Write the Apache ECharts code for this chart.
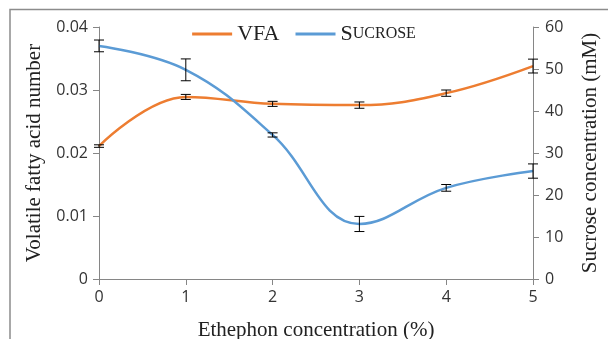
<!DOCTYPE html>
<html>
<head>
<meta charset="utf-8">
<script src="https://cdn.jsdelivr.net/npm/echarts@6/dist/echarts.min.js"></script>
<style>
  html, body { margin: 0; padding: 0; background: #fff; }
  #chart { width: 608px; height: 339px; }
</style>
</head>
<body>
<div id="chart"></div>
<script>
// ethephon concentration (%)
const concentrations = [0, 1, 2, 3, 4, 5];
// volatile fatty acid number (left axis)
const vfa = [0.0211, 0.0289, 0.0278, 0.0276, 0.0295, 0.0338];
const vfaErr = [0.0002, 0.0004, 0.0004, 0.0005, 0.0005, 0.0011];
// sucrose concentration mM (right axis)
const sucrose = [55.5, 49.8, 34.3, 13.1, 21.7, 25.7];
const sucroseErr = [1.4, 2.6, 0.5, 1.8, 0.8, 1.7];

const leftTicks = [0, 0.01, 0.02, 0.03, 0.04];
const rightTicks = [0, 10, 20, 30, 40, 50, 60];

const axisGray = '#868686';
const serif = '"Liberation Serif", "DejaVu Serif", serif';
const sans = '"Open Sans", "Noto Sans", sans-serif';

const myChart = echarts.init(document.getElementById('chart'));

function pairs(ys) {
  return concentrations.map((x, i) => [x, ys[i]]);
}

// error bar renderer, caps about 10px wide
function errorBars(vals, errs, yAxisIndex) {
  return {
    type: 'custom',
    yAxisIndex: yAxisIndex,
    z: 5,
    silent: true,
    data: concentrations.map((x, i) => [x, vals[i] - errs[i], vals[i] + errs[i]]),
    renderItem: function (params, api) {
      const lo = api.coord([api.value(0), api.value(1)]);
      const hi = api.coord([api.value(0), api.value(2)]);
      const w = 5;
      const style = { stroke: '#000', lineWidth: 1 };
      return {
        type: 'group',
        children: [
          { type: 'line', shape: { x1: lo[0], y1: lo[1], x2: hi[0], y2: hi[1] }, style: style },
          { type: 'line', shape: { x1: lo[0] - w, y1: lo[1], x2: lo[0] + w, y2: lo[1] }, style: style },
          { type: 'line', shape: { x1: hi[0] - w, y1: hi[1], x2: hi[0] + w, y2: hi[1] }, style: style }
        ]
      };
    }
  };
}

let option = {
  animation: false,
  backgroundColor: '#fff',
  graphic: [
    {
      type: 'polyline',
      shape: { points: [[10, 339], [10, 9.5], [608, 9.5]] },
      style: { stroke: '#8c8c8c', lineWidth: 1.5, fill: null }
    }
  ],
  grid: { left: 99, right: 75, top: 27, bottom: 60, outerBoundsMode: 'none' },
  legend: {
    top: 18,
    left: 'center',
    itemWidth: 40,
    itemHeight: 3,
    itemGap: 16,
    icon: 'rect',
    data: ['VFA', 'SUCROSE'],
    formatter: function (name) {
      return name === 'VFA' ? '{b|VFA}' : '{b|S}{s|UCROSE}';
    },
    textStyle: {
      rich: {
        b: { fontFamily: serif, fontSize: 22, color: '#222' },
        s: { fontFamily: serif, fontSize: 16, color: '#222' }
      }
    }
  },
  xAxis: {
    type: 'value',
    min: 0,
    max: 5,
    interval: 1,
    name: 'Ethephon concentration (%)',
    nameLocation: 'middle',
    nameGap: 41,
    nameTextStyle: { fontFamily: serif, fontSize: 21, color: '#222' },
    axisLine: { lineStyle: { color: axisGray } },
    axisTick: { show: true, length: 6, lineStyle: { color: axisGray } },
    splitLine: { show: false },
    axisLabel: { fontFamily: sans, fontSize: 16, color: '#333', margin: 10 }
  },
  yAxis: [
    {
      type: 'value',
      min: leftTicks[0],
      max: leftTicks[leftTicks.length - 1],
      interval: 0.01,
      name: 'Volatile fatty acid number',
      nameLocation: 'middle',
      nameGap: 42,
      nameTextStyle: { fontFamily: serif, fontSize: 21, color: '#222' },
      axisLine: { show: true, lineStyle: { color: axisGray } },
      axisTick: { show: true, length: 6, lineStyle: { color: axisGray } },
      splitLine: { show: false },
      axisLabel: { fontFamily: sans, fontSize: 16, color: '#333', margin: 11 }
    },
    {
      type: 'value',
      position: 'right',
      min: rightTicks[0],
      max: rightTicks[rightTicks.length - 1],
      interval: 10,
      name: 'Sucrose concentration (mM)',
      nameLocation: 'middle',
      nameGap: 47,
      nameRotate: 90,
      nameTextStyle: { fontFamily: serif, fontSize: 21, color: '#222' },
      axisLine: { show: true, lineStyle: { color: axisGray } },
      axisTick: { show: true, length: 6, lineStyle: { color: axisGray } },
      splitLine: { show: false },
      axisLabel: { fontFamily: sans, fontSize: 16, color: '#333', margin: 12 }
    }
  ],
  series: [
    {
      name: 'VFA',
      type: 'line',
      yAxisIndex: 0,
      smooth: 0.4,
      symbol: 'none',
      color: '#ED7D31',
      lineStyle: { width: 2.5, color: '#ED7D31' },
      data: pairs(vfa)
    },
    {
      name: 'SUCROSE',
      type: 'line',
      yAxisIndex: 1,
      smooth: 0.4,
      symbol: 'none',
      color: '#5B9BD5',
      lineStyle: { width: 2.5, color: '#5B9BD5' },
      data: pairs(sucrose)
    },
    errorBars(vfa, vfaErr, 0),
    errorBars(sucrose, sucroseErr, 1)
  ]
};

myChart.setOption(option);
</script>
</body>
</html>
